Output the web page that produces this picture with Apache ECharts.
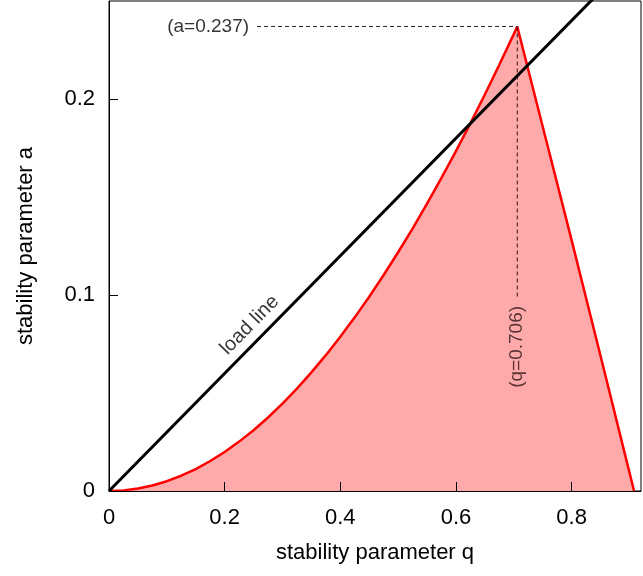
<!DOCTYPE html>
<html>
<head>
<meta charset="utf-8">
<script src="https://cdn.jsdelivr.net/npm/echarts@6/dist/echarts.min.js"></script>
<style>
  html, body { margin: 0; padding: 0; background: #fff; }
  #chart { width: 643px; height: 576px; }
</style>
</head>
<body>
<div id="chart"></div>
<script>
// Lower boundary of the first stability region, rising from the origin
const lowerQ = [0, 0.025, 0.05, 0.075, 0.1, 0.125, 0.15, 0.175, 0.2, 0.225, 0.25, 0.275,
  0.3, 0.325, 0.35, 0.375, 0.4, 0.425, 0.45, 0.475, 0.5, 0.525, 0.55, 0.575,
  0.6, 0.625, 0.65, 0.675, 0.7, 0.706];
const lowerA = [0, 0.0003, 0.0013, 0.0028, 0.005, 0.0078, 0.0112, 0.0153, 0.0199, 0.0252, 0.031, 0.0375,
  0.0446, 0.0522, 0.0605, 0.0693, 0.0787, 0.0886, 0.0991, 0.1102, 0.1218, 0.1339, 0.1466, 0.1598,
  0.1734, 0.1876, 0.2023, 0.2175, 0.2331, 0.237];

// Right-hand boundary, from the apex down to the q axis
const upperQ = [0.706, 0.75, 0.8, 0.85, 0.9, 0.908];
const upperA = [0.237, 0.186, 0.128, 0.069, 0.0095, 0];

// Load line through the origin
const loadQ = [0, 0.92];
const loadA = [0, 0.276];

// Apex of the region and where its guide lines end
const apexQ = 0.706;
const apexA = 0.237;
const guideStartQ = 0.256;
const guideEndA = 0.099;

// Load line caption anchor (on the line)
const loadLabelQ = 0.263;
const loadLabelA = 0.0789;

const qMax = 0.92;
const aMax = 0.25;
const qStep = 0.2;
const aStep = 0.1;

const regionData = lowerQ.map((q, i) => [q, lowerA[i]])
  .concat(upperQ.slice(1).map((q, i) => [q, upperA[i + 1]]));
const loadData = loadQ.map((q, i) => [q, loadA[i]]);

const chart = echarts.init(document.getElementById('chart'), null, { renderer: 'canvas' });

const FONT = 'Liberation Sans, Arial, sans-serif';

chart.setOption({
  animation: false,
  backgroundColor: '#ffffff',
  grid: {
    left: 109, right: 2, top: 1, bottom: 85,
    show: true, borderColor: '#000', borderWidth: 1, backgroundColor: 'transparent'
  },
  xAxis: {
    type: 'value', min: 0, max: qMax, interval: qStep, z: 10,
    name: 'stability parameter q', nameLocation: 'middle', nameGap: 51,
    nameTextStyle: { fontFamily: FONT, fontSize: 22, color: '#000' },
    axisLine: { show: true, lineStyle: { color: '#000', width: 1 } },
    axisTick: { show: true, inside: true, length: 9, lineStyle: { color: '#000' } },
    axisLabel: { fontFamily: FONT, fontSize: 22, color: '#000', margin: 16, showMaxLabel: false },
    splitLine: { show: false }
  },
  yAxis: {
    type: 'value', min: 0, max: aMax, interval: aStep, z: 10,
    name: 'stability parameter a', nameLocation: 'middle', nameGap: 72, nameRotate: 90,
    nameTextStyle: { fontFamily: FONT, fontSize: 22, color: '#000' },
    axisLine: { show: true, lineStyle: { color: '#000', width: 1 } },
    axisTick: { show: true, inside: true, length: 9, lineStyle: { color: '#000' } },
    axisLabel: { fontFamily: FONT, fontSize: 22, color: '#000', margin: 14, showMaxLabel: false },
    splitLine: { show: false }
  },
  series: [
    {
      name: 'stable region', type: 'line', data: regionData, z: 2,
      showSymbol: false, symbol: 'none',
      lineStyle: { color: '#ff0000', width: 2.5 },
      areaStyle: { color: '#ffaaaa', opacity: 1 }
    },
    {
      name: 'apex a', type: 'line', z: 3, symbol: 'none',
      data: [[guideStartQ, apexA], [apexQ, apexA]],
      lineStyle: { color: '#222', width: 1, type: [4, 3] }
    },
    {
      name: 'apex q', type: 'line', z: 3, symbol: 'none',
      data: [[apexQ, apexA], [apexQ, guideEndA]],
      lineStyle: { color: '#301515', width: 1, type: [4, 3] }
    },
    {
      name: 'load line', type: 'line', z: 4, symbol: 'none',
      data: loadData,
      lineStyle: { color: '#000', width: 3 }
    },
    {
      name: 'captions', type: 'scatter', z: 5, symbolSize: 0, silent: true,
      data: [
        {
          value: [guideStartQ, apexA],
          label: {
            show: true, position: 'left', distance: 8,
            formatter: '(a=' + apexA.toFixed(3) + ')',
            fontFamily: FONT, fontSize: 19, color: '#000'
          }
        },
        {
          value: [apexQ, guideEndA],
          label: {
            show: true, position: 'inside', offset: [-9, 0], rotate: 90,
            align: 'right', verticalAlign: 'middle',
            formatter: '(q=' + apexQ.toFixed(3) + ')',
            fontFamily: FONT, fontSize: 19, color: '#301515'
          }
        },
        {
          value: [loadLabelQ, loadLabelA],
          label: {
            show: true, position: 'inside', offset: [0, -16], rotate: 45.5,
            align: 'center', verticalAlign: 'middle',
            formatter: 'load line',
            fontFamily: FONT, fontSize: 20, color: '#000'
          }
        }
      ]
    }
  ]
});
</script>
</body>
</html>
